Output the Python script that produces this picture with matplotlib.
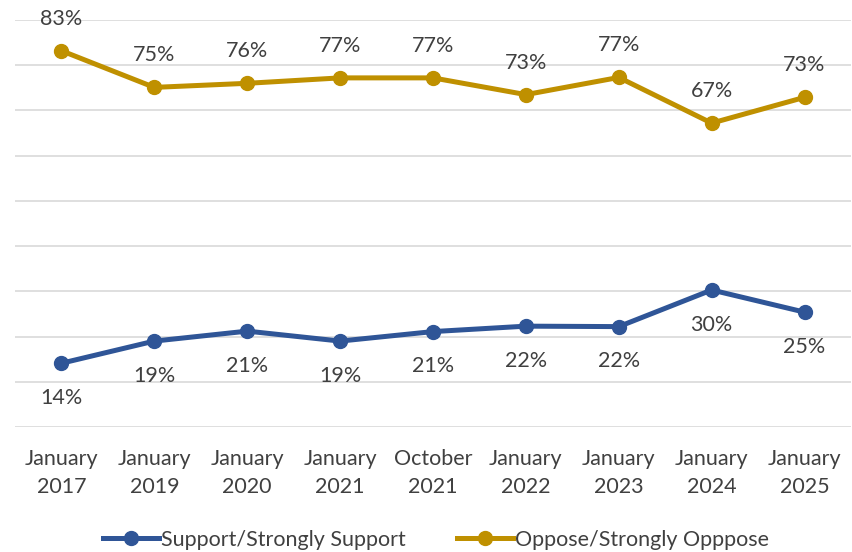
import matplotlib.pyplot as plt

plt.rcParams['font.family'] = ['Lato', 'DejaVu Sans']

categories = ["January\n2017", "January\n2019", "January\n2020", "January\n2021", "October\n2021",
              "January\n2022", "January\n2023", "January\n2024", "January\n2025"]
support = [14.1, 19.0, 21.2, 19.0, 21.1, 22.3, 22.2, 30.3, 25.4]
oppose = [83.2, 75.1, 76.0, 77.2, 77.2, 73.5, 77.3, 67.2, 72.9]
support_labels = ["14%", "19%", "21%", "19%", "21%", "22%", "22%", "30%", "25%"]
oppose_labels = ["83%", "75%", "76%", "77%", "77%", "73%", "77%", "67%", "73%"]

blue = "#2F5597"
gold = "#BF9000"
txt = "#404040"

fig = plt.figure(figsize=(8.53, 5.52), dpi=100)
ax = fig.add_axes([15 / 853, 1 - 427 / 552, 836 / 853, 407 / 552])

x = list(range(len(categories)))
ax.plot(x, support, color=blue, lw=3.6, marker='o', ms=10, label="Support/Strongly Support")
ax.plot(x, oppose, color=gold, lw=3.6, marker='o', ms=10, label="Oppose/Strongly Opppose")

for i in x:
    ax.annotate(support_labels[i], (i, support[i]), xytext=(0, -25), textcoords='offset points',
                ha='center', va='center', fontsize=15.5, color=txt)
    ax.annotate(oppose_labels[i], (i, oppose[i]), xytext=(0, 23), textcoords='offset points',
                ha='center', va='center', fontsize=15.5, color=txt)

ax.set_xlim(-0.5, len(categories) - 0.5)
ax.set_ylim(0, 90)
ax.set_yticks(range(0, 91, 10))
ax.set_yticklabels([])
ax.tick_params(axis='y', length=0)
ax.tick_params(axis='x', length=0, pad=16, labelsize=15.5, labelcolor=txt)
ax.set_xticks(x)
ax.set_xticklabels(categories, linespacing=1.5)
ax.grid(axis='y', color='#D9D9D9', lw=1.2)
ax.set_axisbelow(True)
for s in ax.spines.values():
    s.set_visible(False)

leg = fig.legend(loc='center', bbox_to_anchor=(436 / 853, 1 - 540 / 552), ncol=2, frameon=False,
                 fontsize=15.5, handlelength=2.6, handletextpad=0.1, columnspacing=2.4,
                 labelcolor=txt)

fig.savefig("out.png", dpi=100)
